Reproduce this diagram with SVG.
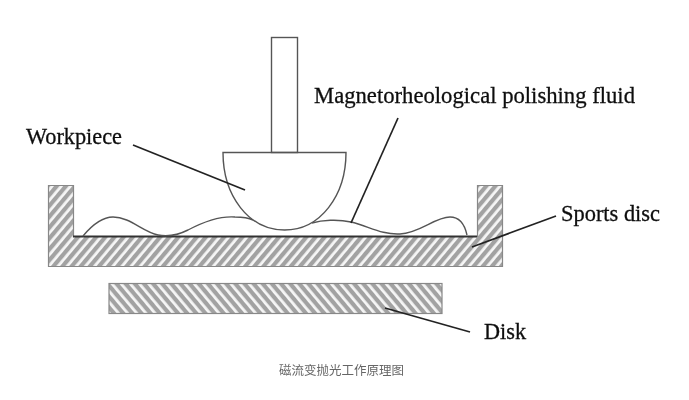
<svg xmlns="http://www.w3.org/2000/svg" width="689" height="400" viewBox="0 0 689 400">
<defs>
<pattern id="h1" width="7" height="7" patternUnits="userSpaceOnUse" patternTransform="rotate(-50)"><rect width="7" height="7" fill="#f6f6f6"/><rect width="7" height="4.200" fill="#a2a2a2"/></pattern>
<pattern id="h2" width="7" height="7" patternUnits="userSpaceOnUse" patternTransform="rotate(50)"><rect width="7" height="7" fill="#f6f6f6"/><rect width="7" height="4.200" fill="#a2a2a2"/></pattern>
<filter id="soft" x="-5%" y="-5%" width="110%" height="110%"><feGaussianBlur stdDeviation="0.6"/></filter>
</defs>
<style>
.o{fill:none;stroke:#555;stroke-width:1.4}
.l{fill:none;stroke:#222;stroke-width:1.7}
.t{font-family:"Liberation Serif","Times New Roman",serif;font-size:22.500px;fill:#111;stroke:#111;stroke-width:.3}
.c{font-family:"Noto Sans CJK SC",sans-serif;font-size:12.500px;fill:#666}
</style>
<rect width="689" height="400" fill="#fff"/>
<g filter="url(#soft)">
<g id="stem"><rect class="o" x="271.500" y="37.500" width="26" height="115"/></g>
<g id="workpiece"><path class="o" d="M223 152.500H346C346 196 320 230 284.500 230C249 230 223 196 223 152.500Z"/></g>
<g id="tray"><path d="M48.500 185.500H73.500V236.500H477.500V185.500H502.500V266.500H48.500Z" fill="url(#h1)" stroke="#888" stroke-width="1.200"/><path d="M73 236.500H477" fill="none" stroke="#333" stroke-width="2.200"/></g>
<g id="disk"><rect x="109" y="283.500" width="333" height="30" fill="url(#h2)" stroke="#888" stroke-width="1.200"/></g>
<g id="fluid"><path class="o" d="M83 236C93 224 103 217 113 217C130 217 143 232 158 235C168 237 178 235 188 230C205 221 222 216 235 217C243 217 249 218 253 220M312 223C322 220 338 219 351 222C368 226 382 235 400 234C420 233 435 217 450 217C460 217 465 226 467 235"/></g>
<g id="connectors">
<path class="l" d="M133 145L245 190"/>
<path class="l" d="M398 118L351 223"/>
<path class="l" d="M556 216L472 247"/>
<path class="l" d="M470 332L385 308"/>
</g>
<g id="labels">
<text class="t" x="26" y="144" textLength="96" lengthAdjust="spacingAndGlyphs">Workpiece</text>
<text class="t" x="314" y="103" textLength="321" lengthAdjust="spacingAndGlyphs">Magnetorheological polishing fluid</text>
<text class="t" x="561" y="221" textLength="99" lengthAdjust="spacingAndGlyphs">Sports disc</text>
<text class="t" x="484" y="339" textLength="42" lengthAdjust="spacingAndGlyphs">Disk</text>
<text class="c" x="279" y="375">磁流变抛光工作原理图</text>
</g>
</g>
</svg>
